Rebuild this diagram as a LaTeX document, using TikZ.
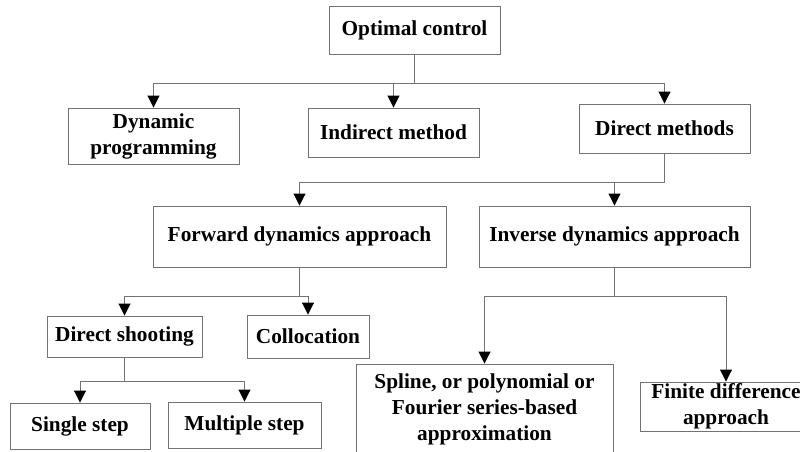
\documentclass[tikz,border=0pt]{standalone}
\usepackage{fontspec}
\setmainfont{Liberation Serif}
\usetikzlibrary{arrows.meta}
\begin{document}
\begin{tikzpicture}[x=1pt,y=-1pt,
  box/.style={draw=black!55, line width=0.9pt, fill=white,
    font=\bfseries\fontsize{21.3}{26}\selectfont, align=center,
    inner sep=0pt},
  conn/.style={draw=black!55, line width=0.9pt},
  arr/.style={conn, -{Triangle[width=12pt,length=12pt,color=black]}}]
\useasboundingbox (0,0) rectangle (800,452);
\clip (0,0) rectangle (800,452);
\node[box, minimum width=171pt, minimum height=48pt] (oc) at (414.5,30) {Optimal control};
\node[box, minimum width=171pt, minimum height=56pt] (dp) at (153.5,136) {Dynamic\\programming};
\node[box, minimum width=171pt, minimum height=49pt] (im) at (393.5,132.5) {Indirect method};
\node[box, minimum width=171pt, minimum height=49pt] (dm) at (664.5,128.5) {Direct methods};
\node[box, minimum width=293pt, minimum height=61pt] (fd) at (299.5,236.5) {Forward dynamics approach};
\node[box, minimum width=271pt, minimum height=61pt] (id) at (614.5,236.5) {Inverse dynamics approach};
\node[box, minimum width=155pt, minimum height=41pt] (ds) at (124.5,336.5) {Direct shooting};
\node[box, minimum width=122pt, minimum height=43pt] (co) at (308,336.5) {Collocation};
\node[box, minimum width=140pt, minimum height=46pt] (ss) at (80,426) {Single step};
\node[box, minimum width=153pt, minimum height=46pt] (ms) at (244.5,425) {Multiple step};
\node[box, minimum width=257pt, minimum height=90pt] (sp) at (484.5,409) {Spline, or polynomial or\\Fourier series-based\\approximation};
\node[box, minimum width=172pt, minimum height=49pt] (fdf) at (726,406.5) {Finite difference\\approach};
\coordinate (j1) at (414.5,83);
\coordinate (j2) at (664.5,182);
\coordinate (j3) at (299.5,296);
\coordinate (j4) at (124.5,381);
\coordinate (j5) at (614.5,296);
\draw[conn] (oc) -- (j1);
\draw[arr] (j1) -| (dp);
\draw[arr] (j1) -| (im);
\draw[arr] (j1) -| (dm);
\draw[conn] (dm) -- (j2);
\draw[arr] (j2) -| (fd);
\draw[arr] (j2) -| (id);
\draw[conn] (fd) -- (j3);
\draw[arr] (j3) -| (ds);
\draw[arr] (j3) -| (co);
\draw[conn] (ds) -- (j4);
\draw[arr] (j4) -| (ss);
\draw[arr] (j4) -| (ms);
\draw[conn] (id) -- (j5);
\draw[arr] (j5) -| (sp);
\draw[arr] (j5) -| (fdf);
\end{tikzpicture}
\end{document}
